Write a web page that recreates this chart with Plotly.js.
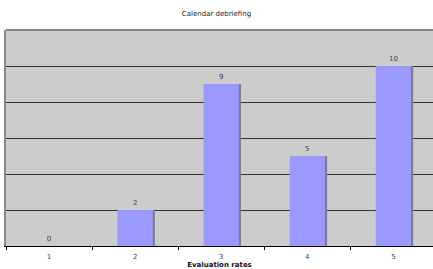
<!DOCTYPE html>
<html>
<head>
<meta charset="utf-8">
<script src="https://cdn.plot.ly/plotly-3.0.1.min.js"></script>
<style>html,body{margin:0;padding:0;background:#fff;}#chart{width:433px;height:269px;}</style>
</head>
<body>
<div id="chart"></div>
<script>
const categories = [1, 2, 3, 4, 5];
const values = [0, 2, 9, 5, 10];
const titleText = "Calendar debriefing";
const xTitle = "Evaluation rates";

const font = "DejaVu Sans, Verdana, sans-serif";

const shadow = {
  type: 'bar', x: categories, y: values,
  width: 0.41, offset: -0.205 + 0.025,
  marker: {color: '#7f7f7f', line: {width: 0}},
  hoverinfo: 'skip', showlegend: false
};
const bars = {
  type: 'bar', x: categories, y: values,
  width: 0.41,
  marker: {color: '#9999ff', line: {width: 0}},
  text: values.map(String), textposition: 'outside', cliponaxis: false,
  textfont: {family: font, size: 7, color: '#444'},
  showlegend: false
};

const layout = {
  width: 433, height: 269,
  margin: {l: 6, r: 0, t: 30, b: 23, pad: 0},
  paper_bgcolor: '#ffffff', plot_bgcolor: '#cccccc',
  barmode: 'overlay',
  title: {text: titleText, font: {family: font, size: 7, color: '#222'},
          x: 0.5, xanchor: 'center', y: 1 - 14/269, yanchor: 'middle', yref: 'container'},
  xaxis: {
    range: [0.5, 5.46], tickvals: categories, ticktext: categories.map(String),
    ticks: 'outside', ticklen: 4, tickcolor: 'rgba(0,0,0,0)',
    showgrid: false, zeroline: false,
    showline: true, linecolor: '#000', linewidth: 1,
    tickfont: {family: font, size: 7, color: '#444'},
    minor: {tick0: 0.5, dtick: 1, ticks: 'outside', ticklen: 3, tickcolor: '#000', tickwidth: 1, showgrid: false},
    title: {text: '<b>' + xTitle + '</b>', font: {family: font, size: 7, color: '#111'}, standoff: 3}
  },
  yaxis: {
    range: [0, 12], dtick: 2, showticklabels: false, ticks: '',
    showgrid: true, gridcolor: '#333', gridwidth: 1, zeroline: false,
    showline: true, linecolor: '#888', linewidth: 2
  },
  shapes: [{type: 'line', xref: 'paper', yref: 'paper', x0: 0, x1: 1, y0: 1, y1: 1,
            line: {color: '#888', width: 2}}]
};

Plotly.newPlot('chart', [shadow, bars], layout, {displayModeBar: false, staticPlot: true});
</script>
</body>
</html>
